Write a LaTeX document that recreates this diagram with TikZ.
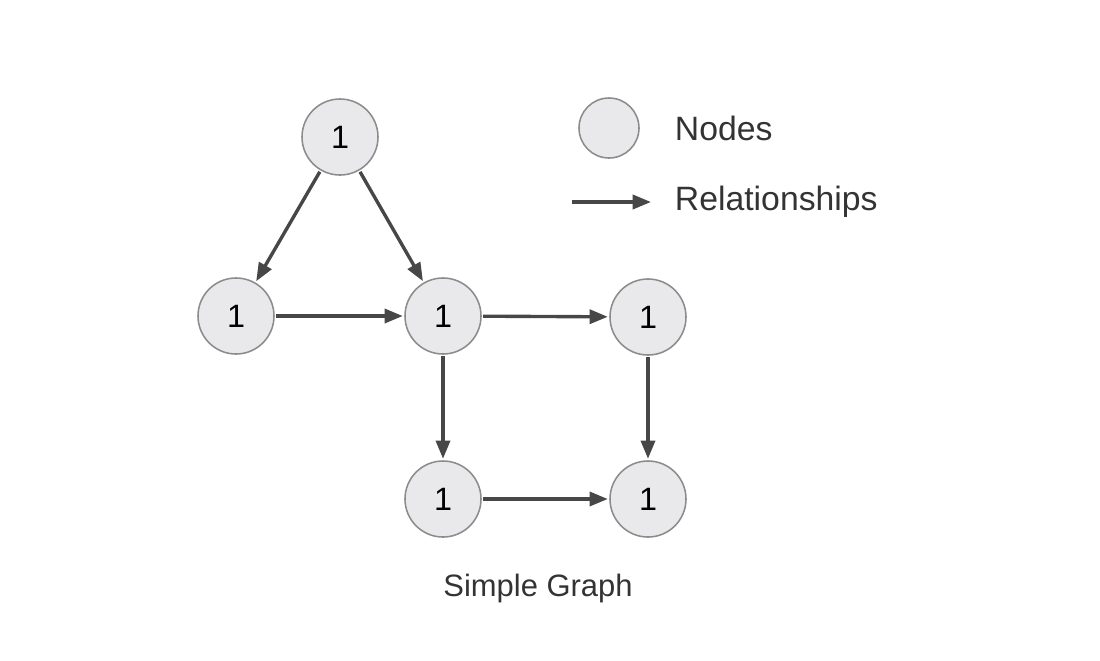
\documentclass[tikz,border=0pt]{standalone}
\usepackage{fontspec}
\setmainfont{Liberation Sans}
\usetikzlibrary{arrows.meta}
\definecolor{nodefill}{HTML}{E9E9EC}
\definecolor{nodeline}{HTML}{8C8C8C}
\definecolor{edgecol}{HTML}{474747}
\definecolor{textcol}{HTML}{333333}
\begin{document}
\begin{tikzpicture}[x=0.025cm,y=-0.025cm,
			circled/.style={draw=nodeline, fill=nodefill, line width=1.1pt, circle, minimum size=1.9cm, inner sep=0pt, text=black, font=\fontsize{23}{27}\selectfont},
			rel/.style={draw=edgecol, line width=2.4pt, -{Triangle[length=13pt,width=10pt]}, shorten >=1pt, shorten <=1pt},
			legendtext/.style={text=textcol, font=\fontsize{24}{28}\selectfont}
			]
			\useasboundingbox (0,0) rectangle (1100,660);
			% graph
			\node [circled] (top) at (340,137) {1};
			\node [circled] (left) at (236,316) {1};
			\node [circled] (mid) at (443,316) {1};
			\node [circled] (right) at (648,317) {1};
			\node [circled] (botmid) at (443,499) {1};
			\node [circled] (botright) at (648,499) {1};
			\draw [rel] (top) -- (left);
			\draw [rel] (top) -- (mid);
			\draw [rel] (left) -- (mid);
			\draw [rel] (mid) -- (right);
			\draw [rel] (mid) -- (botmid);
			\draw [rel] (right) -- (botright);
			\draw [rel] (botmid) -- (botright);
			% legend
			\node [circled, minimum size=1.5cm] (legnode) at (609,128) {};
			\node [legendtext, anchor=west] (nodestext) at (670,128) {Nodes};
			\coordinate (legstart) at (572,202);
			\coordinate (legend) at (651,202);
			\draw [rel, shorten >=0pt, shorten <=0pt] (legstart) -- (legend);
			\node [legendtext, anchor=west] (reltext) at (670,202) {Relationships};
			\node [legendtext, font=\fontsize{22}{26}\selectfont] (caption) at (538,588) {Simple Graph};
		\end{tikzpicture}
\end{document}
